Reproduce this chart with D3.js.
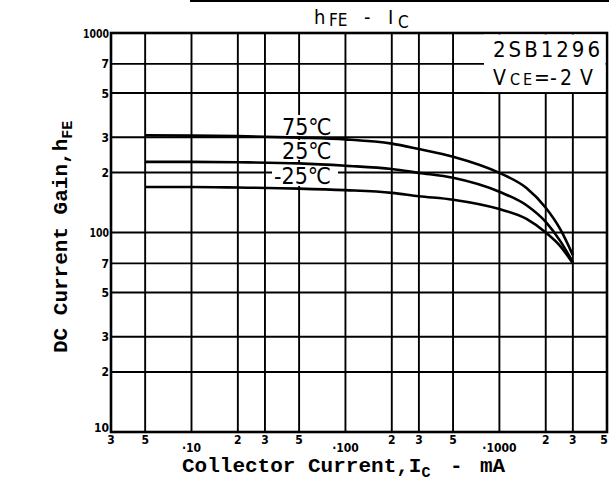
<!DOCTYPE html>
<html>
<head>
<meta charset="utf-8">
<script src="https://cdn.jsdelivr.net/npm/d3@7"></script>
<style>
  body { margin: 0; background: #fff; }
  svg { display: block; }
  .grid line { stroke: #000; stroke-width: 1.9; }
  .curve { fill: none; stroke: #000; stroke-width: 2.6; }
  .tick-lbl { font-family: "DejaVu Sans Condensed", "DejaVu Sans", sans-serif; font-weight: bold; font-size: 12px; }
  .mono { font-family: "Liberation Mono", "DejaVu Sans Mono", monospace; font-weight: bold; }
  .cond { font-family: "DejaVu Sans Condensed", "DejaVu Sans", sans-serif; }
</style>
</head>
<body>
<svg id="chart" width="609" height="482"></svg>
<script>
// collector current magnitude, mA
var currents = [5, 10, 20, 50, 100, 200, 300, 500, 1000, 1500, 2000, 2500, 3000];
var gain75 = [307, 306, 304, 299, 293, 279, 262, 240, 199, 167, 133, 103, 77];
var gain25 = [226, 226, 225, 222, 216, 208, 199, 188, 160, 137, 113, 90, 71];
var gainM25 = [169, 169, 168, 166, 163, 158, 152, 146, 131, 117, 100, 85, 70];

var xGrid = [3, 5, 10, 20, 30, 50, 100, 200, 300, 500, 1000, 2000, 3000, 5000];
var xLabels = ['3', '5', '·10', '2', '3', '5', '·100', '2', '3', '5', '·1000', '2', '3', '5'];
var yGrid = [10, 20, 30, 50, 70, 100, 200, 300, 500, 700, 1000];
var yLabels = ['10', '2', '3', '5', '7', '100', '2', '3', '5', '7', '1000'];

var svg = d3.select('#chart');

var x = d3.scaleLog().domain([3, 5000]).range([111, 607]);
var y = d3.scaleLog().domain([10, 1000]).range([432, 33]);

// scan edge at the very top
svg.append('line').attr('x1', 190).attr('x2', 609).attr('y1', 1).attr('y2', 1)
  .attr('stroke', '#000').attr('stroke-width', 2);

var grid = svg.append('g').classed('grid', true);
grid.selectAll('.v').data(xGrid).enter().append('line')
  .attr('x1', function(d) { return x(d) }).attr('x2', function(d) { return x(d) })
  .attr('y1', y(1000)).attr('y2', y(10));
grid.selectAll('.h').data(yGrid).enter().append('line')
  .attr('x1', x(3)).attr('x2', x(5000))
  .attr('y1', function(d) { return y(d) }).attr('y2', function(d) { return y(d) });

// frame
svg.append('rect').attr('x', x(3)).attr('y', y(1000))
  .attr('width', x(5000) - x(3)).attr('height', y(10) - y(1000))
  .attr('fill', 'none').attr('stroke', '#000').attr('stroke-width', 2.6);

// white block for part number, bottom edge is the 500 line
svg.append('rect').attr('x', 484).attr('y', y(1000) + 1.5)
  .attr('width', x(5000) - 485.5).attr('height', y(500) - y(1000) - 2.5)
  .attr('fill', '#fff');

// label knockouts
[[278, 115, 58, 21], [278, 140, 58, 20], [272, 164, 66, 22]].forEach(function(r) {
  svg.append('rect').attr('x', r[0]).attr('y', r[1]).attr('width', r[2]).attr('height', r[3]).attr('fill', '#fff');
});

var line = d3.line()
  .x(function(d) { return x(d[0]) })
  .y(function(d) { return y(d[1]) })
  .curve(d3.curveMonotoneX);

[gain75, gain25, gainM25].forEach(function(series) {
  svg.append('path').classed('curve', true)
    .attr('d', line(currents.map(function(c, i) { return [c, series[i]] })));
});

// curve labels
svg.append('text').classed('cond', true).attr('x', 282).attr('y', 135).attr('font-size', 23).text('75℃');
svg.append('text').classed('cond', true).attr('x', 282).attr('y', 159).attr('font-size', 23).text('25℃');
svg.append('text').classed('cond', true).attr('x', 274).attr('y', 184).attr('font-size', 23).text('-25℃');

// part number and condition
svg.append('text').classed('cond', true).attr('x', 493).attr('y', 57).attr('font-size', 22)
  .attr('textLength', 107).attr('lengthAdjust', 'spacing').text('2SB1296');
var vce = svg.append('text').classed('cond', true).attr('y', 85).attr('font-size', 21);
vce.append('tspan').attr('x', 493).text('V');
vce.append('tspan').attr('x', 510).attr('font-size', 16).attr('textLength', 22).attr('lengthAdjust', 'spacing').text('CE');
vce.append('tspan').attr('x', 534).text('=');
vce.append('tspan').attr('x', 550).text('-');
vce.append('tspan').attr('x', 560).text('2');
vce.append('tspan').attr('x', 580).text('V');

// title
var title = svg.append('text').classed('cond', true).attr('y', 24).attr('font-size', 20);
title.append('tspan').attr('x', 314).text('h');
title.append('tspan').attr('x', 329).attr('font-size', 17).attr('dy', 2).text('FE');
title.append('tspan').attr('x', 364).attr('dy', -2).text('-');
title.append('tspan').attr('x', 388).text('I');
title.append('tspan').attr('x', 398).attr('font-size', 17).attr('dy', 4).text('C');

// y tick labels
svg.selectAll('.ylbl').data(yGrid).enter().append('text').classed('tick-lbl', true)
  .attr('x', 109).attr('y', function(d) { return d == 10 ? y(d) : y(d) + 4.5 })
  .attr('text-anchor', 'end')
  .attr('textLength', function(d, i) { return yLabels[i].length > 2 ? yLabels[i].length * 6.5 : null })
  .attr('lengthAdjust', 'spacingAndGlyphs')
  .text(function(d, i) { return yLabels[i] });

// x tick labels, decades sit lower
svg.selectAll('.xlbl').data(xGrid).enter().append('text').classed('tick-lbl', true)
  .attr('x', function(d) { return Math.min(x(d), 604) })
  .attr('y', function(d, i) { return xLabels[i].charAt(0) == '·' ? 452 : 444 })
  .attr('text-anchor', 'middle')
  .text(function(d, i) { return xLabels[i] });

// axis titles
var xt = svg.append('text').classed('mono', true).attr('y', 472).attr('font-size', 21);
xt.append('tspan').attr('x', 182).text('Collector Current,I');
xt.append('tspan').attr('font-size', 15).attr('dy', 5).text('C');
xt.append('tspan').attr('x', 450).attr('dy', -5).text('-');
xt.append('tspan').attr('x', 480).text('mA');

var yt = svg.append('text').classed('mono', true).attr('font-size', 21)
  .attr('transform', 'translate(67,353) rotate(-90)');
yt.append('tspan').text('DC Current Gain,h');
yt.append('tspan').attr('font-size', 15).attr('dy', 5).text('FE');
</script>
</body>
</html>
